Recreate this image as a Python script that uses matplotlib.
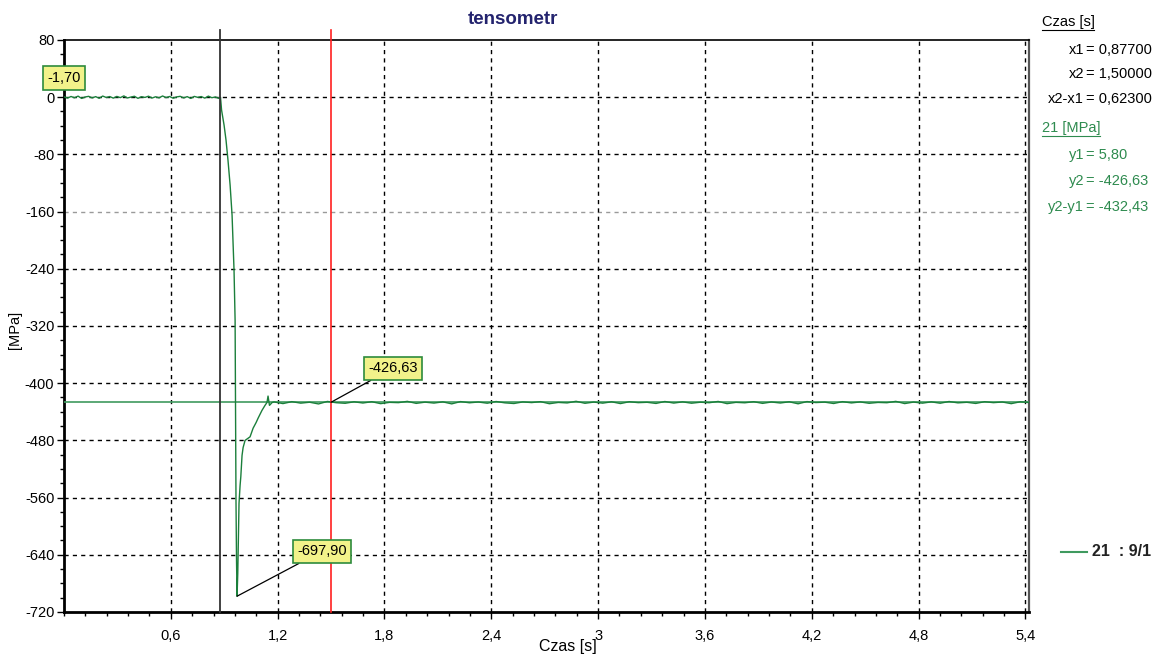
import numpy as np
import matplotlib
matplotlib.use("Agg")
import matplotlib.pyplot as plt
from matplotlib.lines import Line2D
from matplotlib.ticker import MultipleLocator, FixedLocator, FuncFormatter

plt.rcParams['font.family'] = ['Liberation Sans', 'DejaVu Sans']

# ---------------- data ----------------
title = "tensometr"
x_label = "Czas [s]"
y_label = "[MPa]"
x_ticks = [0.6, 1.2, 1.8, 2.4, 3.0, 3.6, 4.2, 4.8, 5.4]
x_tick_labels = ["0,6", "1,2", "1,8", "2,4", "3", "3,6", "4,2", "4,8", "5,4"]
y_ticks = [80, 0, -80, -160, -240, -320, -400, -480, -560, -640, -720]

# baseline before impact (0 .. 0.87 s)
baseline_values = [0.5, -1.2, 1.0, -0.8, 1.5, -1.7, 0.3, 1.2, -1.0, 0.8,
                   -1.5, 1.6, -0.4, 0.9, -1.3, 1.1, -0.6, 1.8, -1.1, 0.2,
                   1.3, -1.6, 0.7, -0.3, 1.4, -1.2, 0.6, -0.9, 1.7, -0.5,
                   1.0, -1.4, 0.4, 1.2, -1.0, 0.8, -1.7, 1.1, -0.2, 0.9,
                   -1.3, 1.5, -0.7, 0.3, -1.7]
# impact transient
transient_time = [0.879, 0.885, 0.899, 0.910, 0.921, 0.933, 0.944, 0.949, 0.955,
                  0.961, 0.963, 0.966, 0.969, 0.972, 0.976, 0.980, 0.983, 0.989,
                  0.993, 1.000, 1.006, 1.017, 1.034, 1.045, 1.062, 1.079, 1.090,
                  1.112, 1.129, 1.140, 1.146, 1.154, 1.169]
transient_values = [0, -18, -39, -60, -88, -123, -165, -200, -242,
                    -312, -424, -564, -648, -697.9, -666, -606, -568, -543,
                    -531, -501, -490, -480, -477, -475, -463, -455, -449,
                    -438, -431, -427, -418, -431, -427]
# settled tail (1.18 .. 5.42 s)
tail_values = [-426.2, -428.5, -425.8, -427.9, -426.6, -429.0, -425.5, -427.3, -428.1, -426.0,
               -427.7, -425.9, -428.6, -426.8, -427.2, -425.4, -428.2, -426.5, -427.8, -426.1,
               -428.9, -425.7, -427.4, -426.3, -428.0, -425.6, -427.5, -428.4, -426.2, -427.1,
               -425.8, -428.7, -426.9, -427.6, -425.3, -428.1, -426.4, -427.9, -426.0, -428.5,
               -425.9, -427.2, -426.7, -428.3, -425.6, -427.8, -426.1, -428.0, -426.6, -427.3,
               -425.5, -428.6, -426.8, -427.4, -425.9, -428.2, -426.3, -427.7, -426.0, -428.8,
               -425.7, -427.1, -426.5, -428.4, -425.8, -427.6, -426.2, -428.1, -426.9, -427.3,
               -425.4, -428.5, -426.4, -427.9, -426.1, -428.0, -425.6, -427.5, -426.7, -428.3,
               -425.9, -427.2, -426.3, -428.6, -426.0, -427.0]

cursor_x1 = 0.877
cursor_x2 = 1.5
cursor_y2 = -426.63
y_min_point = (0.972, -697.9)
label_start = "-1,70"
label_y2 = "-426,63"
label_min = "-697,90"
panel_time_rows = [("x1", "0,87700"), ("x2", "1,50000"), ("x2-x1", "0,62300")]
panel_value_rows = [("y1", "5,80"), ("y2", "-426,63"), ("y2-y1", "-432,43")]
legend_label = "21  : 9/1"

# ---------------- build series ----------------
baseline_time = np.linspace(0.0, 0.87, len(baseline_values))
tail_time = np.linspace(1.18, 5.42, len(tail_values))
t = np.concatenate([baseline_time, transient_time, tail_time])
v = np.concatenate([baseline_values, transient_values, tail_values])

W, H = 1154, 655
fig = plt.figure(figsize=(W / 100, H / 100), dpi=100)
L, R, T, B = 64, 1029, 40, 612
ax = fig.add_axes([L / W, 1 - B / H, (R - L) / W, (B - T) / H])

ax.set_xlim(0, 5.42)
ax.set_ylim(-720, 80)

sig_green = '#1b7f3b'
cur_green = '#3f9a5f'
txt_green = '#2e8b4f'

ax.axhline(cursor_y2, color=cur_green, lw=1.2, zorder=3)
ax.plot(t, v, color=sig_green, lw=1.0, zorder=4)

# cursors
ytop_ext = 80 + 10 * 800 / (B - T)
ax.plot([cursor_x1, cursor_x1], [-720, ytop_ext], color='#333333', lw=1.3, clip_on=False, zorder=5)
ax.plot([cursor_x2, cursor_x2], [-720, ytop_ext], color='#ff2020', lw=1.2, clip_on=False, zorder=5)

# grid
ax.xaxis.set_major_locator(FixedLocator(x_ticks))
ax.xaxis.set_major_formatter(FuncFormatter(lambda val, pos: x_tick_labels[pos] if pos is not None and pos < len(x_tick_labels) else ""))
ax.xaxis.set_minor_locator(MultipleLocator(0.12))
ax.yaxis.set_major_locator(FixedLocator(y_ticks))
ax.yaxis.set_major_formatter(FuncFormatter(lambda val, pos: f"{int(round(val))}"))
ax.yaxis.set_minor_locator(MultipleLocator(20))

for yv in y_ticks:
    if yv in (80, -720):
        continue
    col = '#9a9a9a' if yv == -160 else 'black'
    ax.axhline(yv, color=col, lw=1.0, ls=(0, (3, 3)), zorder=1)
for xv in x_ticks:
    ax.axvline(xv, color='black', lw=1.0, ls=(0, (3, 3)), zorder=1)

ax.tick_params(axis='both', which='major', direction='out', length=5, width=1,
               labelsize=10.5, colors='black')
ax.tick_params(axis='both', which='minor', direction='out', length=3, width=1)
ax.tick_params(axis='x', pad=7)
ax.tick_params(axis='y', pad=2)

for s in ['left', 'bottom']:
    ax.spines[s].set_linewidth(2)
    ax.spines[s].set_color('black')
ax.spines['top'].set_linewidth(1.2)
ax.spines['top'].set_color('black')
ax.spines['right'].set_linewidth(1.6)
ax.spines['right'].set_color('#555555')

# annotations
box = dict(boxstyle='square,pad=0.32', fc='#f2f28a', ec='#2e8b3c', lw=1.2)
ax.text(0.0, 27, label_start, ha='center', va='center', fontsize=10.5, bbox=box,
        clip_on=False, zorder=6)
ax.annotate(label_y2, xy=(cursor_x2, cursor_y2), xytext=(1.848, -379),
            ha='center', va='center', fontsize=10.5, bbox=box, zorder=6,
            arrowprops=dict(arrowstyle='-', color='black', lw=0.9, shrinkA=0, shrinkB=0))
ax.annotate(label_min, xy=y_min_point, xytext=(1.449, -635),
            ha='center', va='center', fontsize=10.5, bbox=box, zorder=6,
            arrowprops=dict(arrowstyle='-', color='black', lw=0.9, shrinkA=0, shrinkB=0))

# titles and labels
def fx(px):
    return px / W

def fy(py):
    return 1 - py / H

fig.text(fx(513), fy(20), title, ha='center', va='center', fontsize=13.5,
         fontweight='bold', color='#23236e')
fig.text(fx(568), fy(647), x_label, ha='center', va='center', fontsize=11.5)
fig.text(fx(15), fy(330), y_label, ha='center', va='center', fontsize=10.5, rotation=90)

# right panel
fig.text(fx(1042), fy(22), "Czas [s]", ha='left', va='center', fontsize=10.5)
fig.add_artist(Line2D([fx(1042), fx(1094)], [fy(30), fy(30)], color='black', lw=0.8))
rows_y = [50, 74, 99]
for (name, val), py in zip(panel_time_rows, rows_y):
    fig.text(fx(1084), fy(py), name, ha='right', va='center', fontsize=10.5)
    fig.text(fx(1086), fy(py), "= " + val, ha='left', va='center', fontsize=10.5)
fig.text(fx(1042), fy(128), "21 [MPa]", ha='left', va='center', fontsize=10.5, color=txt_green)
fig.add_artist(Line2D([fx(1042), fx(1100)], [fy(136), fy(136)], color=txt_green, lw=0.8))
rows_y2 = [155, 181, 207]
for (name, val), py in zip(panel_value_rows, rows_y2):
    fig.text(fx(1084), fy(py), name, ha='right', va='center', fontsize=10.5, color=txt_green)
    fig.text(fx(1086), fy(py), "= " + val, ha='left', va='center', fontsize=10.5, color=txt_green)

# legend
fig.add_artist(Line2D([fx(1061), fx(1087)], [fy(552), fy(552)], color='#3f9a5f', lw=1.5))
fig.text(fx(1092), fy(552), legend_label, ha='left', va='center', fontsize=11.5,
         fontweight='bold', color='#222222')

fig.savefig("out.png", dpi=100)
